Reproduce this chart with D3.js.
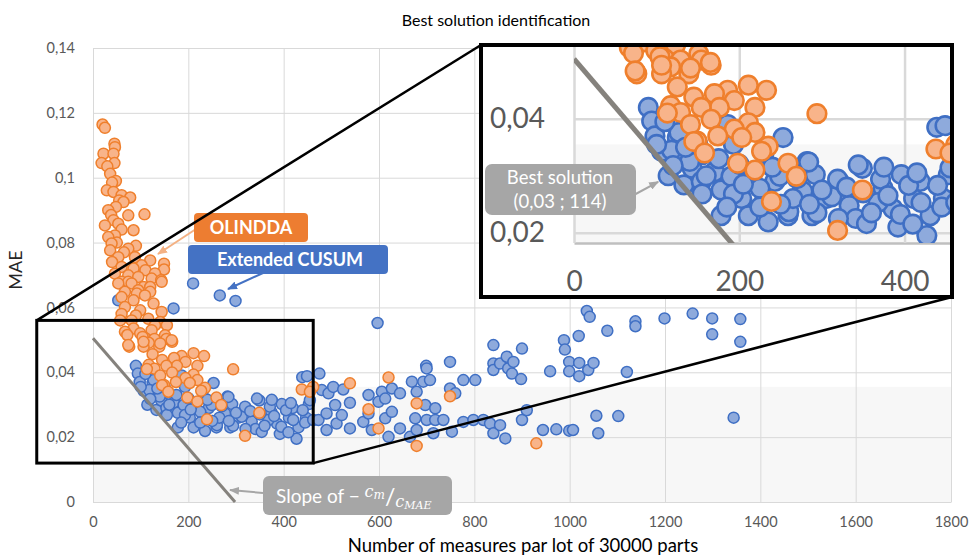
<!DOCTYPE html>
<html>
<head>
<meta charset="utf-8">
<script src="https://cdn.jsdelivr.net/npm/d3@7/dist/d3.min.js"></script>
<style>
  body { margin: 0; background: #fff; }
  text { font-family: Lato, "Open Sans", sans-serif; }
</style>
</head>
<body>
<svg id="chart" width="971" height="557"></svg>
<script>
// ---- data ----
const xTicks = [0, 200, 400, 600, 800, 1000, 1200, 1400, 1600, 1800];
const yTicks = [0, 0.02, 0.04, 0.06, 0.08, 0.1, 0.12, 0.14];
const yTickLabels = ["0", "0,02", "0,04", "0,06", "0,08", "0,1", "0,12", "0,14"];
const insetXTicks = [0, 200, 400];
const insetYTicks = [0.02, 0.04];
const insetYTickLabels = ["0,02", "0,04"];

// cost line: slope of -cm/cMAE
const slopeLine = [[0, 0.0505], [298, 0]];
const bestSolution = [114, 0.03];
// region shown in the zoomed panel
const zoomWindow = { x0: -118, x1: 462, y0: 0.012, y1: 0.056 };

// OLINDDA  [measures, MAE]
const olindda = [
  [20, 0.1164], [25, 0.1154], [45, 0.1105], [46, 0.1094], [22, 0.1074], [43, 0.1074],
  [18, 0.1045], [45, 0.1045], [30, 0.1035], [36, 0.1012], [48, 0.099], [40, 0.0985],
  [29, 0.0961], [43, 0.0956], [60, 0.0946], [78, 0.0939], [55, 0.093], [64, 0.0925],
  [48, 0.091], [32, 0.09], [108, 0.0887], [38, 0.0885], [74, 0.0884], [43, 0.0869],
  [53, 0.0858], [25, 0.0853], [60, 0.084], [85, 0.0838], [46, 0.0822], [32, 0.0817],
  [50, 0.08], [39, 0.0797], [90, 0.079], [74, 0.0781], [36, 0.0776], [65, 0.077],
  [53, 0.0755], [88, 0.0755], [120, 0.0745], [40, 0.074], [149, 0.0735], [102, 0.073],
  [60, 0.0725], [85, 0.072], [149, 0.0717], [110, 0.0715], [130, 0.0705], [46, 0.0704],
  [74, 0.0699], [95, 0.0694], [123, 0.0689], [143, 0.0684], [60, 0.0679], [74, 0.0679],
  [144, 0.0679], [53, 0.0674], [81, 0.0674], [106, 0.0663], [120, 0.0663], [95, 0.0653],
  [67, 0.0648], [120, 0.0648], [92, 0.0643], [109, 0.0637], [60, 0.0632], [85, 0.0622],
  [127, 0.0612], [67, 0.0601], [99, 0.0591], [144, 0.0586], [60, 0.058], [90, 0.0575],
  [116, 0.0565], [57, 0.056], [81, 0.056], [141, 0.0555], [130, 0.0545], [155, 0.0545],
  [85, 0.0535], [123, 0.053], [67, 0.0525], [99, 0.052], [151, 0.0514], [110, 0.0505],
  [72, 0.0515], [104, 0.0509], [129, 0.0503], [154, 0.0503], [166, 0.0494], [117, 0.0491],
  [76, 0.0479], [106, 0.0479], [139, 0.0479],
  [165, 0.0499], [106, 0.0494], [141, 0.0489], [74, 0.0484],
  [211, 0.0459], [125, 0.0456], [233, 0.045], [186, 0.045], [170, 0.0444], [145, 0.0438],
  [194, 0.0432], [117, 0.0423], [176, 0.042], [219, 0.042], [154, 0.042], [129, 0.0411],
  [113, 0.041], [294, 0.0409], [166, 0.0399], [211, 0.0393], [141, 0.039], [194, 0.0382],
  [219, 0.0376], [174, 0.037], [203, 0.0367], [149, 0.0361], [145, 0.036], [235, 0.0352],
  [462, 0.0355], [438, 0.0347], [455, 0.034], [227, 0.0343], [158, 0.034], [198, 0.0322],
  [259, 0.0322], [219, 0.031], [269, 0.0299], [349, 0.0275], [239, 0.0255], [319, 0.0204],
  [539, 0.0366], [620, 0.0384], [749, 0.0326], [679, 0.0304], [578, 0.0286], [599, 0.0227],
  [679, 0.0173], [930, 0.0181]
];

// Extended CUSUM  [measures, MAE]
const cusum = [
  [53, 0.0622], [169, 0.0597], [210, 0.0674], [266, 0.0637], [299, 0.062],
  [90, 0.042], [94, 0.0396], [98, 0.037], [106, 0.0343], [114, 0.03], [125, 0.0367],
  [129, 0.0334], [133, 0.0284], [143, 0.0313], [154, 0.029], [155, 0.0337], [170, 0.0307],
  [178, 0.0275], [178, 0.023], [186, 0.039], [203, 0.026], [211, 0.023], [215, 0.0296],
  [231, 0.026], [235, 0.0219], [243, 0.029], [253, 0.0367], [259, 0.023], [276, 0.0272],
  [282, 0.0325], [292, 0.0302], [288, 0.023], [305, 0.026], [321, 0.029], [333, 0.0248],
  [341, 0.0225], [349, 0.0313], [354, 0.0216], [374, 0.0278], [386, 0.0242], [392, 0.021],
  [396, 0.0302], [411, 0.026], [419, 0.029], [427, 0.0195], [431, 0.023], [439, 0.0385],
  [449, 0.0388], [447, 0.026], [453, 0.0302],
  [155, 0.0268], [190, 0.0299], [193, 0.0355], [193, 0.0268], [225, 0.0278], [249, 0.0299],
  [260, 0.0237], [277, 0.0273], [284, 0.0324], [294, 0.0235], [312, 0.0263], [319, 0.0294],
  [344, 0.0319], [368, 0.0253], [371, 0.0294], [127, 0.0376], [118, 0.0345], [140, 0.0325],
  [160, 0.03], [200, 0.032], [225, 0.0245], [265, 0.026], [300, 0.0275], [330, 0.028],
  [360, 0.0235], [380, 0.0265], [405, 0.0283], [420, 0.0253], [440, 0.0283], [455, 0.0314],
  [395, 0.0232], [410, 0.0215], [230, 0.034], [240, 0.0315], [205, 0.0285], [185, 0.0245],
  [150, 0.0355], [110, 0.0395], [100, 0.0355], [120, 0.0318], [135, 0.035], [175, 0.033],
  [270, 0.0295], [250, 0.025], [320, 0.0225], [285, 0.025], [350, 0.027], [375, 0.0315],
  [415, 0.0305], [445, 0.0245],
  [462, 0.0253], [473, 0.0253], [475, 0.0396], [480, 0.0345], [490, 0.0273], [490, 0.0222],
  [494, 0.0335], [504, 0.0355], [508, 0.0299], [511, 0.0242], [522, 0.0268], [525, 0.0347],
  [539, 0.0306], [539, 0.0227], [567, 0.0247], [578, 0.033], [578, 0.0273], [585, 0.0222],
  [597, 0.0552], [599, 0.0309], [606, 0.034], [613, 0.0319], [613, 0.0258], [620, 0.0201],
  [627, 0.035], [627, 0.0278], [644, 0.0335], [644, 0.0227], [665, 0.0201], [669, 0.0371],
  [676, 0.0258], [679, 0.034], [679, 0.0222], [693, 0.0371], [697, 0.0299], [699, 0.042],
  [700, 0.0412], [700, 0.0253], [707, 0.0376], [714, 0.0212], [718, 0.0289], [718, 0.0253],
  [735, 0.0253], [749, 0.0432], [749, 0.035], [753, 0.0217], [760, 0.0335], [777, 0.0376],
  [777, 0.0247], [798, 0.0253], [802, 0.0376], [819, 0.0253], [833, 0.0242], [840, 0.0484],
  [840, 0.0427], [840, 0.0407], [840, 0.0212], [854, 0.0427], [854, 0.0237], [865, 0.0196],
  [868, 0.0448], [871, 0.0412], [879, 0.0396], [882, 0.0432], [898, 0.0379], [900, 0.0473],
  [900, 0.0253], [910, 0.0283], [944, 0.0222], [959, 0.0403], [972, 0.0224], [988, 0.0499],
  [990, 0.047], [999, 0.0432], [999, 0.0403], [999, 0.022], [1007, 0.0222], [1020, 0.0429],
  [1020, 0.0388], [1019, 0.0512], [1036, 0.0589], [1042, 0.0571], [1039, 0.0407], [1050, 0.0429],
  [1056, 0.0266], [1060, 0.0212], [1079, 0.0528], [1102, 0.0265], [1120, 0.0401], [1138, 0.0557],
  [1138, 0.0542], [1199, 0.0566], [1258, 0.0581], [1299, 0.0566], [1299, 0.0517], [1344, 0.026],
  [1358, 0.0564], [1358, 0.0494]
];

// ---- drawing ----
const svg = d3.select("#chart");
const gridColor = "#d9d9d9";
const labelColor = "#595959";
const blue = { fill: "#8eaadc", stroke: "#3f6fc4" };
const orange = { fill: "#f8b48a", stroke: "#ef7f2c" };

const defs = svg.append("defs");
function arrowMarker(id, color, size) {
  defs.append("marker").attr("id", id)
    .attr("viewBox", "0 0 10 8").attr("refX", 9).attr("refY", 4)
    .attr("markerWidth", size).attr("markerHeight", size * 0.8)
    .attr("markerUnits", "userSpaceOnUse").attr("orient", "auto")
    .append("path").attr("d", "M0,0 L10,4 L0,8 z").attr("fill", color);
}
arrowMarker("arrGrey", "#a6a6a6", 10);
arrowMarker("arrOrange", "#f4b183", 10);
arrowMarker("arrBlue", "#4472c4", 10);

// main scales
const x = d3.scaleLinear().domain([0, 1800]).range([93, 951]);
const y = d3.scaleLinear().domain([0, 0.14]).range([502, 48]);

svg.append("text").attr("x", 496).attr("y", 26).attr("text-anchor", "middle")
  .attr("font-size", 16).attr("fill", "#000").text("Best solution identification");

// lighter band in the lower part of the plot
svg.append("rect").attr("x", x(0)).attr("y", y(0.0355))
  .attr("width", x(1800) - x(0)).attr("height", y(0) - y(0.0355)).attr("fill", "#f7f7f7");

const gx = svg.append("g").attr("transform", `translate(0,${y(0)})`)
  .call(d3.axisBottom(x).tickValues(xTicks).tickFormat(d3.format("d"))
    .tickSizeInner(-(y(0) - y(0.14))).tickSizeOuter(0).tickPadding(15));
const gy = svg.append("g").attr("transform", `translate(${x(0)},0)`)
  .call(d3.axisLeft(y).tickValues(yTicks).tickFormat((d, i) => yTickLabels[i])
    .tickSizeInner(-(x(1800) - x(0))).tickSizeOuter(0).tickPadding(18));
[gx, gy].forEach(g => {
  g.attr("font-family", null).attr("font-size", 14.5);
  g.select(".domain").attr("stroke", gridColor);
  g.selectAll(".tick line").attr("stroke", gridColor);
  g.selectAll(".tick text").attr("fill", labelColor);
});

svg.append("text").attr("transform", "translate(22,270) rotate(-90)")
  .attr("text-anchor", "middle").attr("font-size", 18).attr("fill", "#262626").text("MAE");
svg.append("text").attr("x", 523).attr("y", 552).attr("text-anchor", "middle")
  .attr("font-size", 18.5).attr("fill", "#000").text("Number of measures par lot of 30000 parts");

function drawSeries(g, data, sx, sy, col, r, sw) {
  g.append("g").selectAll("circle").data(data).join("circle")
    .attr("cx", d => sx(d[0])).attr("cy", d => sy(d[1])).attr("r", r)
    .attr("fill", col.fill).attr("stroke", col.stroke).attr("stroke-width", sw);
}
function drawSlope(g, sx, sy, w) {
  g.append("line")
    .attr("x1", sx(slopeLine[0][0])).attr("y1", sy(slopeLine[0][1]))
    .attr("x2", sx(slopeLine[1][0])).attr("y2", sy(slopeLine[1][1]))
    .attr("stroke", "#85827d").attr("stroke-width", w);
}

drawSeries(svg, cusum, x, y, blue, 5.5, 1.5);
drawSeries(svg, olindda, x, y, orange, 5.5, 1.5);
drawSlope(svg, x, y, 3);

// callouts
function callout(x0, y0, w, h, fill, rx) {
  svg.append("rect").attr("x", x0).attr("y", y0).attr("width", w).attr("height", h)
    .attr("rx", rx).attr("fill", fill);
}
svg.append("line").attr("x1", 196).attr("y1", 229).attr("x2", 158).attr("y2", 254)
  .attr("stroke", "#f4b183").attr("stroke-width", 2).attr("marker-end", "url(#arrOrange)");
callout(194, 213, 114, 29, "#ed7d31", 4);
svg.append("text").attr("x", 251).attr("y", 234).attr("text-anchor", "middle")
  .attr("font-size", 18).attr("font-weight", "bold").attr("fill", "#fff").text("OLINDDA");

svg.append("line").attr("x1", 263).attr("y1", 273).attr("x2", 228).attr("y2", 289)
  .attr("stroke", "#4472c4").attr("stroke-width", 2).attr("marker-end", "url(#arrBlue)");
callout(188, 245, 200, 29, "#4472c4", 4);
svg.append("text").attr("x", 290).attr("y", 266).attr("text-anchor", "middle")
  .attr("font-size", 18).attr("font-weight", "bold").attr("fill", "#fff").text("Extended CUSUM");

svg.append("line").attr("x1", 263).attr("y1", 493).attr("x2", 230).attr("y2", 490)
  .attr("stroke", "#a6a6a6").attr("stroke-width", 2).attr("marker-end", "url(#arrGrey)");
callout(263, 476, 189, 39, "#a6a6a6", 6);
const st = svg.append("text").attr("x", 276).attr("y", 503).attr("fill", "#fff").attr("font-size", 19);
st.append("tspan").text("Slope of \u2212 ");
const mathFont = "'DejaVu Serif', 'Liberation Serif', serif";
st.append("tspan").attr("font-family", mathFont).attr("font-style", "italic").attr("font-size", 16).attr("dy", -6).text("c");
st.append("tspan").attr("font-family", mathFont).attr("font-style", "italic").attr("font-size", 12).attr("dy", 2).text("m");
st.append("tspan").attr("font-size", 23).attr("dy", 6).text("/");
st.append("tspan").attr("font-family", mathFont).attr("font-style", "italic").attr("font-size", 16).attr("dy", 2).text("c");
st.append("tspan").attr("font-family", mathFont).attr("font-style", "italic").attr("font-size", 11).attr("dy", 2).text("MAE");

// zoom window and connecting lines
svg.append("line").attr("x1", x(zoomWindow.x0)).attr("y1", y(zoomWindow.y1))
  .attr("x2", 481).attr("y2", 45).attr("stroke", "#000").attr("stroke-width", 2.5);
svg.append("line").attr("x1", x(zoomWindow.x1)).attr("y1", y(zoomWindow.y0))
  .attr("x2", 952).attr("y2", 297).attr("stroke", "#000").attr("stroke-width", 2.5);
svg.append("rect").attr("x", x(zoomWindow.x0)).attr("y", y(zoomWindow.y1))
  .attr("width", x(zoomWindow.x1) - x(zoomWindow.x0)).attr("height", y(zoomWindow.y0) - y(zoomWindow.y1))
  .attr("fill", "none").attr("stroke", "#000").attr("stroke-width", 3);

// ---- zoomed panel ----
const ix = d3.scaleLinear().domain([0, 455]).range([574, 950]);
const iy = d3.scaleLinear().domain([0.0182, 0.0526]).range([243, 47]);
const inset = svg.append("g");
inset.append("rect").attr("x", 481).attr("y", 45).attr("width", 471).attr("height", 252).attr("fill", "#fff");
defs.append("clipPath").attr("id", "insetClip").append("rect")
  .attr("x", 574).attr("y", 47).attr("width", 376).attr("height", 196);
inset.append("rect").attr("x", 574).attr("y", iy(0.0355)).attr("width", 376)
  .attr("height", 243 - iy(0.0355)).attr("fill", "#f7f7f7");

const igx = inset.append("g").attr("transform", "translate(0,243)")
  .call(d3.axisBottom(ix).tickValues(insetXTicks).tickFormat(d3.format("d"))
    .tickSizeInner(-196).tickSizeOuter(0).tickPadding(28));
const igy = inset.append("g").attr("transform", "translate(574,0)")
  .call(d3.axisLeft(iy).tickValues(insetYTicks).tickFormat((d, i) => insetYTickLabels[i])
    .tickSizeInner(-376).tickSizeOuter(0).tickPadding(29));
[igx, igy].forEach(g => {
  g.attr("font-family", null).attr("font-size", 28);
  g.selectAll(".tick line").attr("stroke", gridColor).attr("stroke-width", 2.5);
  g.selectAll(".tick text").attr("fill", labelColor);
});
igx.select(".domain").attr("stroke", "#bfbfbf").attr("stroke-width", 2.5);
igy.select(".domain").remove();

const insetData = inset.append("g").attr("clip-path", "url(#insetClip)");
drawSeries(insetData, cusum, ix, iy, blue, 9.3, 2.6);
drawSeries(insetData, olindda, ix, iy, orange, 9.3, 2.6);
drawSlope(insetData, ix, iy, 5);

inset.append("line").attr("x1", 632).attr("y1", 196)
  .attr("x2", ix(bestSolution[0]) - 10).attr("y2", iy(bestSolution[1]) + 6)
  .attr("stroke", "#a6a6a6").attr("stroke-width", 2).attr("marker-end", "url(#arrGrey)");
inset.append("rect").attr("x", 485).attr("y", 164).attr("width", 151).attr("height", 51)
  .attr("rx", 7).attr("fill", "#a6a6a6");
inset.append("text").attr("x", 560).attr("y", 184).attr("text-anchor", "middle")
  .attr("font-size", 18.5).attr("fill", "#fff").text("Best solution");
inset.append("text").attr("x", 560).attr("y", 208).attr("text-anchor", "middle")
  .attr("font-size", 18.5).attr("fill", "#fff").text("(0,03 ; 114)");

inset.append("rect").attr("x", 481).attr("y", 45).attr("width", 471).attr("height", 252)
  .attr("fill", "none").attr("stroke", "#000").attr("stroke-width", 4);
</script>
</body>
</html>
